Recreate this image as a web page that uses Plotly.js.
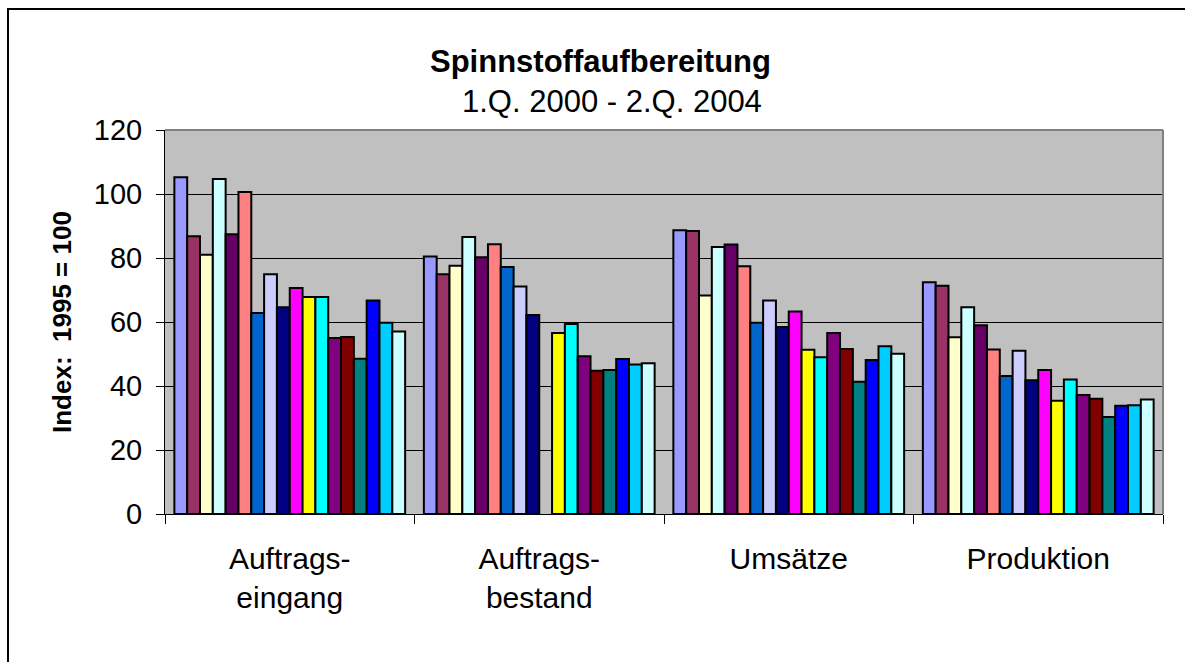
<!DOCTYPE html>
<html>
<head>
<meta charset="utf-8">
<script src="https://cdn.plot.ly/plotly-3.0.1.min.js"></script>
<style>
  html, body { margin: 0; padding: 0; background: #fff; }
  #chart { width: 1185px; height: 662px; }
</style>
</head>
<body>
<div id="chart"></div>
<script>
// quarters 1.Q. 2000 .. 2.Q. 2004 (one bar each per category)
const quarters = ['1.Q. 2000','2.Q. 2000','3.Q. 2000','4.Q. 2000',
                  '1.Q. 2001','2.Q. 2001','3.Q. 2001','4.Q. 2001',
                  '1.Q. 2002','2.Q. 2002','3.Q. 2002','4.Q. 2002',
                  '1.Q. 2003','2.Q. 2003','3.Q. 2003','4.Q. 2003',
                  '1.Q. 2004','2.Q. 2004']
const categories = ['Auftrags-<br>eingang', 'Auftrags-<br>bestand', 'Umsätze', 'Produktion']

// index values (1995 = 100)
const eingang    = [105.2, 86.8, 81.0, 104.7, 87.4, 100.6, 62.8, 74.9, 64.6, 70.6, 67.8, 67.8, 55.0, 55.3, 48.5, 66.7, 59.8, 57.0]
const bestand    = [80.5, 74.9, 77.6, 86.6, 80.2, 84.3, 77.2, 71.1, 62.2, null, 56.6, 59.4, 49.3, 44.8, 45.0, 48.4, 46.7, 47.1]
const umsaetze   = [88.7, 88.4, 68.3, 83.4, 84.2, 77.4, 59.8, 66.7, 58.4, 63.3, 51.3, 49.0, 56.6, 51.6, 41.3, 48.1, 52.4, 50.1]
const produktion = [72.4, 71.3, 55.2, 64.6, 59.0, 51.4, 43.1, 51.0, 41.8, 45.0, 35.4, 42.0, 37.2, 36.0, 30.3, 33.8, 34.0, 35.8]

const colors = ['#9999FF','#993366','#FFFFCC','#CCFFFF','#660066','#FF8080',
                '#0066CC','#CCCCFF','#000080','#FF00FF','#FFFF00','#00FFFF',
                '#800080','#800000','#008080','#0000FF','#00CCFF','#CCFFFF']

const font = 'Arial, "Liberation Sans", sans-serif'

let traces = quarters.map((q, i) => ({
    type: 'bar',
    name: q,
    x: categories,
    y: [eingang[i], bestand[i], umsaetze[i], produktion[i]],
    marker: { color: colors[i], line: { color: '#000', width: 2 } },
    hoverinfo: 'name+y'
}))

let layout = {
    width: 1185,
    height: 662,
    margin: { l: 165, r: 22, t: 130, b: 148 },
    paper_bgcolor: '#fff',
    plot_bgcolor: '#C0C0C0',
    showlegend: false,
    barmode: 'group',
    bargap: 0.075,
    bargroupgap: 0,
    font: { family: font, color: '#000', size: 28 },
    xaxis: {
        type: 'category',
        showline: true, linecolor: '#000', linewidth: 1,
        ticks: 'outside', tickson: 'boundaries', ticklen: 9, tickcolor: '#000',
        tickfont: { size: 30 },
        ticklabelstandoff: 18,
        showgrid: false
    },
    yaxis: {
        range: [0, 120], dtick: 20,
        showline: true, linecolor: '#000', linewidth: 1,
        ticks: 'outside', ticklen: 8, tickcolor: '#000',
        tickfont: { size: 29 },
        ticklabelstandoff: 8,
        showgrid: true, gridcolor: '#000', gridwidth: 1,
        zeroline: false
    },
    annotations: [
        { text: '<b>Spinnstoffaufbereitung</b>', xref: 'paper', yref: 'paper',
          x: (600 - 165) / 998, y: (514 - 61) / 384, yanchor: 'middle', showarrow: false,
          font: { size: 31 } },
        { text: '1.Q. 2000 - 2.Q. 2004', xref: 'paper', yref: 'paper',
          x: (612 - 165) / 998, y: (514 - 101) / 384, yanchor: 'middle', showarrow: false,
          font: { size: 31 } },
        { text: '<b>Index:  1995 = 100</b>', xref: 'paper', yref: 'paper',
          x: (62 - 165) / 998, y: (514 - 322) / 384, textangle: -90, showarrow: false,
          xanchor: 'center', yanchor: 'middle',
          font: { size: 26 } }
    ],
    shapes: [
        // chart frame
        { type: 'rect', xref: 'paper', yref: 'paper', layer: 'above',
          x0: (8 - 165) / 998, x1: 1.2, y0: -0.6, y1: (514 - 9) / 384,
          line: { color: '#000', width: 2 } },
        // plot area border (top and right)
        { type: 'line', xref: 'paper', yref: 'paper', layer: 'above',
          x0: 0, x1: 1, y0: 1, y1: 1, line: { color: '#808080', width: 2 } },
        { type: 'line', xref: 'paper', yref: 'paper', layer: 'above',
          x0: 1, x1: 1, y0: 0, y1: 1, line: { color: '#808080', width: 2 } }
    ]
}

Plotly.newPlot('chart', traces, layout, { displayModeBar: false, staticPlot: true })
</script>
</body>
</html>
